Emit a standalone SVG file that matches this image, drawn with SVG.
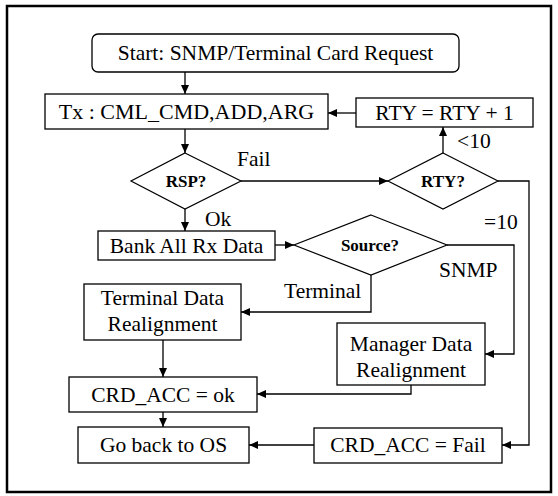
<svg xmlns="http://www.w3.org/2000/svg" width="558" height="496" viewBox="0 0 558 496">
<defs>
<style>
.box{fill:#fff;stroke:#000;stroke-width:1.3}
.dia{fill:#fff;stroke:#000;stroke-width:1.2}
.t{font-family:"Liberation Serif","Times New Roman",serif;font-size:21.5px;fill:#000}
.c{text-anchor:middle}
.b{font-weight:bold;font-size:17px}
.ln{fill:none;stroke:#000;stroke-width:1.3}
</style>
<marker id="ah" markerUnits="userSpaceOnUse" markerWidth="10" markerHeight="8" refX="9" refY="4" orient="auto">
<path d="M0,0 L9,4 L0,8 Z" fill="#000"/>
</marker>
</defs>
<rect x="7" y="6" width="544" height="486" fill="#fff" stroke="#000" stroke-width="2.5"/>
<g id="connectors">
<path class="ln" d="M185,72 V94" marker-end="url(#ah)"/>
<path class="ln" d="M356,113 H328" marker-end="url(#ah)"/>
<path class="ln" d="M185,129 V153" marker-end="url(#ah)"/>
<path class="ln" d="M443,153 V127" marker-end="url(#ah)"/>
<path class="ln" d="M241,181 H388" marker-end="url(#ah)"/>
<path class="ln" d="M185,209 V231" marker-end="url(#ah)"/>
<path class="ln" d="M275,245 H294" marker-end="url(#ah)"/>
<path class="ln" d="M498,181 H529 V445 H502" marker-end="url(#ah)"/>
<path class="ln" d="M447,245 H514 V354 H485" marker-end="url(#ah)"/>
<path class="ln" d="M371,275 V312 H241" marker-end="url(#ah)"/>
<path class="ln" d="M163,340 V377" marker-end="url(#ah)"/>
<path class="ln" d="M411,385 V394 H257" marker-end="url(#ah)"/>
<path class="ln" d="M163,412 V427" marker-end="url(#ah)"/>
<path class="ln" d="M314,445 H249" marker-end="url(#ah)"/>
<text class="t" x="237" y="166">Fail</text>
<text class="t" x="457" y="148">&lt;10</text>
<text class="t" x="484" y="229">=10</text>
<text class="t" x="205" y="226">Ok</text>
<text class="t" x="439" y="277">SNMP</text>
<text class="t" x="284" y="298">Terminal</text>
</g>
<g id="start">
<rect class="box" x="92" y="34" width="367" height="38" rx="6"/>
<text class="t c" x="275.5" y="60">Start: SNMP/Terminal Card Request</text>
</g>
<g id="tx">
<rect class="box" x="45" y="94" width="283" height="35"/>
<text class="t c" x="186.5" y="119" style="font-size:22px">Tx : CML_CMD,ADD,ARG</text>
</g>
<g id="rty_inc">
<rect class="box" x="356" y="98" width="177" height="29"/>
<text class="t c" x="444.5" y="120">RTY = RTY + 1</text>
</g>
<g id="rsp">
<polygon class="dia" points="185,153 241,181 185,209 131,181"/>
<text class="t c b" x="186" y="187">RSP?</text>
</g>
<g id="rty">
<polygon class="dia" points="443,153 498,181 443,209 388,181"/>
<text class="t c b" x="443" y="187">RTY?</text>
</g>
<g id="bank">
<rect class="box" x="98" y="231" width="177" height="29"/>
<text class="t c" x="186.5" y="253">Bank All Rx Data</text>
</g>
<g id="source">
<polygon class="dia" points="371,215 447,245 371,275 294,245"/>
<text class="t c b" x="370" y="251">Source?</text>
</g>
<g id="terminal">
<rect class="box" x="84" y="284" width="157" height="56"/>
<text class="t c" x="162.5" y="305">Terminal Data</text>
<text class="t c" x="162.5" y="331">Realignment</text>
</g>
<g id="manager">
<rect class="box" x="337" y="323" width="148" height="62"/>
<text class="t c" x="411" y="351">Manager Data</text>
<text class="t c" x="411" y="377">Realignment</text>
</g>
<g id="crd_ok">
<rect class="box" x="69" y="377" width="188" height="35"/>
<text class="t c" x="163" y="402">CRD_ACC = ok</text>
</g>
<g id="goback">
<rect class="box" x="78" y="427" width="171" height="36"/>
<text class="t c" x="163.5" y="452">Go back to OS</text>
</g>
<g id="crd_fail">
<rect class="box" x="314" y="428" width="188" height="35"/>
<text class="t c" x="408" y="452">CRD_ACC = Fail</text>
</g>
</svg>
